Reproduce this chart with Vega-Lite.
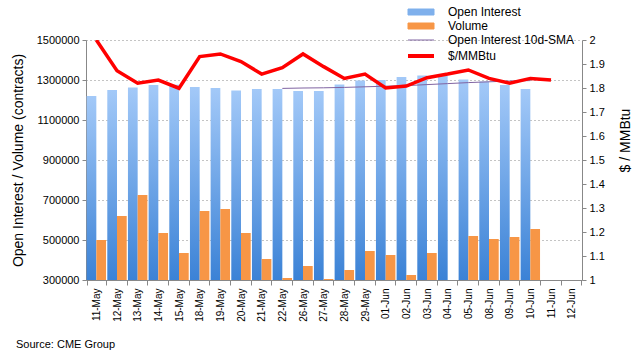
{
  "$schema": "https://vega.github.io/schema/vega-lite/v6.json",
  "width": 496,
  "height": 240,
  "autosize": {"type": "none"},
  "padding": {"left": 86, "top": 40, "right": 58, "bottom": 79},
  "background": "white",
  "config": {
    "font": "Liberation Sans",
    "view": {"stroke": null},
    "axis": {"labelColor": "#000", "titleColor": "#000", "titleFontWeight": "normal", "domainColor": "#888", "tickColor": "#888", "labelFont": "Liberation Sans", "titleFont": "Liberation Sans"}
  },
  "title": {"text": "Source: CME Group", "orient": "bottom", "anchor": "start", "frame": "group", "dx": -70, "offset": 18, "fontSize": 11, "fontWeight": "normal", "color": "#000", "font": "Liberation Sans"},
  "data": {
    "values": [
      {"d": "11-May", "oi": 1220000, "vol": 500000, "sma": null, "px": 2.0},
      {"d": "12-May", "oi": 1250000, "vol": 620000, "sma": null, "px": 1.872},
      {"d": "13-May", "oi": 1263000, "vol": 725000, "sma": null, "px": 1.82},
      {"d": "14-May", "oi": 1275000, "vol": 535000, "sma": null, "px": 1.833},
      {"d": "15-May", "oi": 1276000, "vol": 435000, "sma": null, "px": 1.799},
      {"d": "18-May", "oi": 1265000, "vol": 645000, "sma": null, "px": 1.931},
      {"d": "19-May", "oi": 1260000, "vol": 655000, "sma": null, "px": 1.942},
      {"d": "20-May", "oi": 1247000, "vol": 535000, "sma": null, "px": 1.91},
      {"d": "21-May", "oi": 1255000, "vol": 405000, "sma": null, "px": 1.858},
      {"d": "22-May", "oi": 1255000, "vol": 310000, "sma": 1258000, "px": 1.885},
      {"d": "26-May", "oi": 1245000, "vol": 370000, "sma": 1260000, "px": 1.942},
      {"d": "27-May", "oi": 1245000, "vol": 305000, "sma": 1261000, "px": 1.889},
      {"d": "28-May", "oi": 1278000, "vol": 350000, "sma": 1263000, "px": 1.84},
      {"d": "29-May", "oi": 1297000, "vol": 445000, "sma": 1266000, "px": 1.858},
      {"d": "01-Jun", "oi": 1300000, "vol": 425000, "sma": 1269000, "px": 1.80},
      {"d": "02-Jun", "oi": 1315000, "vol": 325000, "sma": 1272000, "px": 1.808},
      {"d": "03-Jun", "oi": 1323000, "vol": 435000, "sma": 1277000, "px": 1.843},
      {"d": "04-Jun", "oi": 1323000, "vol": null, "sma": 1282000, "px": 1.858},
      {"d": "05-Jun", "oi": 1303000, "vol": 520000, "sma": 1287000, "px": 1.875},
      {"d": "08-Jun", "oi": 1293000, "vol": 505000, "sma": 1291000, "px": 1.84},
      {"d": "09-Jun", "oi": 1275000, "vol": 515000, "sma": 1295000, "px": 1.82},
      {"d": "10-Jun", "oi": 1255000, "vol": 555000, "sma": 1297000, "px": 1.84},
      {"d": "11-Jun", "oi": null, "vol": null, "sma": null, "px": 1.833},
      {"d": "12-Jun", "oi": null, "vol": null, "sma": null, "px": null}
    ]
  },
  "encoding": {
    "x": {
      "field": "d", "type": "nominal", "sort": null,
      "scale": {"domain": ["11-May","12-May","13-May","14-May","15-May","18-May","19-May","20-May","21-May","22-May","26-May","27-May","28-May","29-May","01-Jun","02-Jun","03-Jun","04-Jun","05-Jun","08-Jun","09-Jun","10-Jun","11-Jun","12-Jun"], "paddingInner": 0.06, "paddingOuter": 0.03},
      "axis": {"title": null, "labelAngle": -90, "labelFontSize": 10, "tickBand": "extent", "tickSize": 5, "labelPadding": 3}
    }
  },
  "layer": [
    {
      "encoding": {
        "y": {"type": "quantitative", "scale": {"domain": [300000, 1500000], "nice": false, "zero": false},
          "axis": {"orient": "left", "values": [300000,500000,700000,900000,1100000,1300000,1500000], "format": "d", "grid": true, "gridDash": [1, 3], "gridColor": "#888", "tickSize": 4, "labelFontSize": 11, "labelPadding": 3, "title": "Open Interest / Volume (contracts)", "titleFontSize": 14, "titlePadding": 11}}
      },
      "layer": [
        {
          "mark": {"type": "bar", "color": {"gradient": "linear", "x1": 0, "y1": 0, "x2": 0, "y2": 1, "stops": [{"offset": 0, "color": "#a3c9f8"}, {"offset": 1, "color": "#3b82d6"}]}},
          "encoding": {
            "y": {"field": "oi", "type": "quantitative"},
            "y2": {"datum": 300000},
            "xOffset": {"datum": "Open Interest", "scale": {"domain": ["Open Interest", "Volume"], "paddingInner": 0, "paddingOuter": 0}}
          }
        },
        {
          "mark": {"type": "bar", "color": "#f79646"},
          "encoding": {
            "y": {"field": "vol", "type": "quantitative"},
            "y2": {"datum": 300000},
            "xOffset": {"datum": "Volume"}
          }
        },
        {
          "mark": {"type": "line", "strokeWidth": 1},
          "encoding": {
            "y": {"field": "sma", "type": "quantitative"},
            "color": {"datum": "Open Interest 10d-SMA"}
          }
        }
      ]
    },
    {
      "mark": {"type": "line", "strokeWidth": 3.5, "clip": true},
      "encoding": {
        "y": {"field": "px", "type": "quantitative", "scale": {"domain": [1, 2], "nice": false, "zero": false},
          "axis": {"orient": "right", "values": [1,1.1,1.2,1.3,1.4,1.5,1.6,1.7,1.8,1.9,2], "format": ".1~f", "grid": false, "tickSize": 4, "labelFontSize": 11, "labelPadding": 3, "title": "$ / MMBtu", "titleFontSize": 14, "titleAngle": 270, "titleX": 43, "titleY": 100, "titleAlign": "center", "titleBaseline": "middle"}},
        "color": {"datum": "$/MMBtu",
          "scale": {"domain": ["Open Interest", "Volume", "Open Interest 10d-SMA", "$/MMBtu"], "range": ["#7fb0ec", "#f79646", "#8064a2", "#ff0000"]},
          "legend": {
            "title": null, "orient": "none", "legendX": 329, "legendY": -34,
            "symbolSize": 100, "labelOffset": 21, "labelFontSize": 12, "labelColor": "#000", "rowPadding": 2,
            "encode": {"symbols": {"update": {
              "shape": {"signal": "(datum.value === 'Open Interest' || datum.value === 'Volume') ? 'M-2.6,-0.6H2.6V0.6H-2.6Z' : 'M-2.6,0H2.6'"},
              "fill": {"signal": "datum.value === 'Open Interest' ? '#7fb0ec' : (datum.value === 'Volume' ? '#f79646' : 'transparent')"},
              "stroke": {"signal": "datum.value === 'Open Interest 10d-SMA' ? '#8064a2' : (datum.value === '$/MMBtu' ? '#ff0000' : 'transparent')"},
              "strokeWidth": {"signal": "datum.value === '$/MMBtu' ? 4 : 1"},
              "opacity": {"value": 1}
            }}}
          }
        }
      }
    }
  ],
  "resolve": {"scale": {"y": "independent"}}
}
